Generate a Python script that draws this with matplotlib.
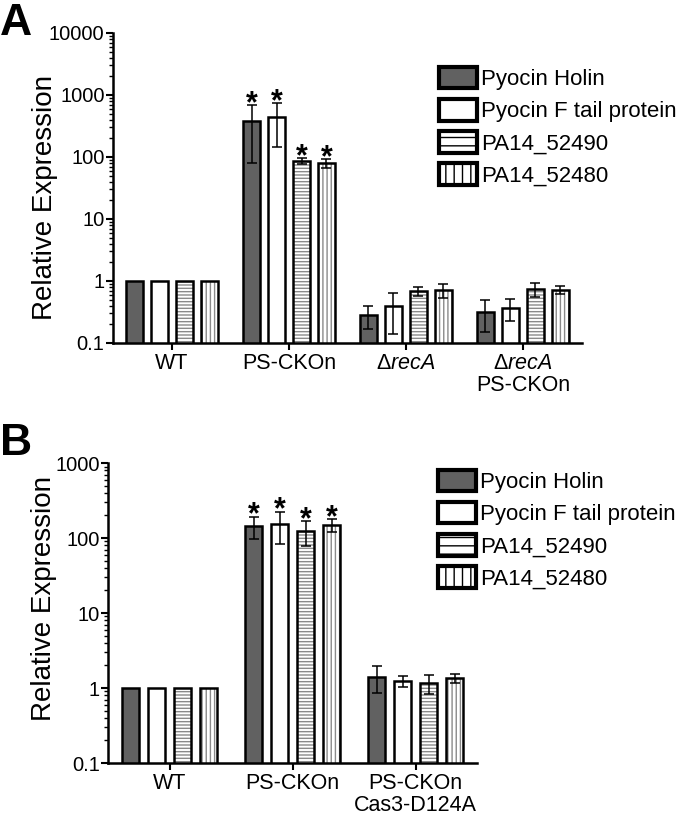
import matplotlib
matplotlib.use('Agg')
import matplotlib.pyplot as plt
from matplotlib.patches import Patch
from matplotlib.ticker import FixedLocator, LogLocator, NullFormatter
import numpy as np

plt.rcParams['font.family'] = ['Liberation Sans', 'DejaVu Sans']
plt.rcParams['mathtext.fontset'] = 'custom'
plt.rcParams['mathtext.rm'] = 'Liberation Sans'
plt.rcParams['mathtext.it'] = 'Liberation Sans:italic'
plt.rcParams['hatch.linewidth'] = 1.0

# data, panel A
series_names = ['Pyocin Holin', 'Pyocin F tail protein', 'PA14_52490', 'PA14_52480']
groups_a = ['WT', 'PS-CKOn', 'Δ$\\mathit{recA}$', 'Δ$\\mathit{recA}$\nPS-CKOn']
holin_a = [1, 380, 0.28, 0.32]
holin_a_err = [0, 300, 0.11, 0.17]
ftail_a = [1, 445, 0.39, 0.37]
ftail_a_err = [0, 300, 0.25, 0.14]
p52490_a = [1, 86, 0.69, 0.74]
p52490_a_err = [0, 9, 0.12, 0.19]
p52480_a = [1, 80, 0.72, 0.72]
p52480_a_err = [0, 13, 0.18, 0.11]
stars_a = [False, True, False, False]

# data, panel B
groups_b = ['WT', 'PS-CKOn', 'PS-CKOn\nCas3-D124A']
holin_b = [1, 145, 1.40]
holin_b_err = [0, 48, 0.55]
ftail_b = [1, 154, 1.24]
ftail_b_err = [0, 70, 0.21]
p52490_b = [1, 124, 1.17]
p52490_b_err = [0, 45, 0.33]
p52480_b = [1, 150, 1.35]
p52480_b_err = [0, 30, 0.17]
stars_b = [False, True, False]

# styles
face = ['#616161', 'white', 'white', 'white']
hatches = [None, None, '-----', '||||']
leg_hatches = [None, None, '--', '||']
HATCH_GRAY = '#8a8a8a'


def draw_panel(ax, groups, vals, errs, stars, gap, width, ytop):
    for j in range(4):
        x = np.arange(len(groups)) * gap + j
        if hatches[j]:
            ax.bar(x, vals[j], width, color='white', edgecolor=HATCH_GRAY,
                   hatch=hatches[j], linewidth=0)
            ax.bar(x, vals[j], width, fill=False, edgecolor='black', linewidth=1.8)
        else:
            ax.bar(x, vals[j], width, color=face[j], edgecolor='black', linewidth=1.8)
        for i in range(len(groups)):
            if errs[j][i] > 0:
                ax.errorbar(x[i], vals[j][i], yerr=errs[j][i], fmt='none', ecolor='black',
                            elinewidth=1.1, capsize=3.5, capthick=1.1)
            if stars[i]:
                ax.annotate('*', (x[i], vals[j][i] + errs[j][i]), xytext=(0, -5),
                            textcoords='offset points', ha='center', va='baseline',
                            fontsize=22, fontweight='bold')
    ax.set_yscale('log')
    ax.set_ylim(0.1, ytop)
    ax.set_xlim(-0.87, (len(groups) - 1) * gap + 3 + 0.87)
    majors = [10.0 ** k for k in range(-1, int(round(np.log10(ytop))) + 1)]
    ax.yaxis.set_major_locator(FixedLocator(majors))
    ax.set_yticklabels(['0.1', '1'] + [str(int(m)) for m in majors[2:]])
    ax.yaxis.set_minor_locator(LogLocator(base=10, subs=np.arange(2, 10)))
    ax.yaxis.set_minor_formatter(NullFormatter())
    ax.set_xticks(np.arange(len(groups)) * gap + 1.5)
    ax.set_xticklabels(groups, linespacing=1.1)
    for s in ['top', 'right']:
        ax.spines[s].set_visible(False)
    for s in ['left', 'bottom']:
        ax.spines[s].set_linewidth(1.8)
    ax.tick_params(axis='y', which='major', length=5, width=1.5, pad=1, labelsize=14.5)
    ax.tick_params(axis='y', which='minor', length=3, width=1.0)
    ax.tick_params(axis='x', length=5, width=1.5, pad=2, labelsize=15.5)
    ax.set_ylabel('Relative Expression', fontsize=20)


fig = plt.figure(figsize=(6.8, 8.18), dpi=100)
ax_a = fig.add_axes([0.166, 0.5807, 0.690, 0.379])
ax_b = fig.add_axes([0.159, 0.0672, 0.543, 0.3667])

draw_panel(ax_a, groups_a, [holin_a, ftail_a, p52490_a, p52480_a],
           [holin_a_err, ftail_a_err, p52490_a_err, p52480_a_err], stars_a, 4.68, 0.68, 10000)
draw_panel(ax_b, groups_b, [holin_b, ftail_b, p52490_b, p52480_b],
           [holin_b_err, ftail_b_err, p52490_b_err, p52480_b_err], stars_b, 4.73, 0.67, 1000)

ax_a.yaxis.set_label_coords(-0.117, 0.468)
ax_b.yaxis.set_label_coords(-0.138, 0.547)

handles = [Patch(facecolor=face[j], edgecolor='black', linewidth=3.0, hatch=leg_hatches[j])
           for j in range(4)]
for ax, anchor in [(ax_a, (0.695, 0.89)), (ax_b, (0.894, 0.977))]:
    ax.legend(handles, series_names, loc='upper left', bbox_to_anchor=anchor, frameon=False,
              fontsize=16, handlelength=1.7, handleheight=1.1, labelspacing=0.4,
              handletextpad=0.2, borderpad=0, borderaxespad=0)

fig.text(0.0, 1 - 3 / 818, 'A', fontsize=32, fontweight='bold', va='top', ha='left')
fig.text(0.0, 1 - 423 / 818, 'B', fontsize=32, fontweight='bold', va='top', ha='left')

fig.savefig('out.png', dpi=100)
